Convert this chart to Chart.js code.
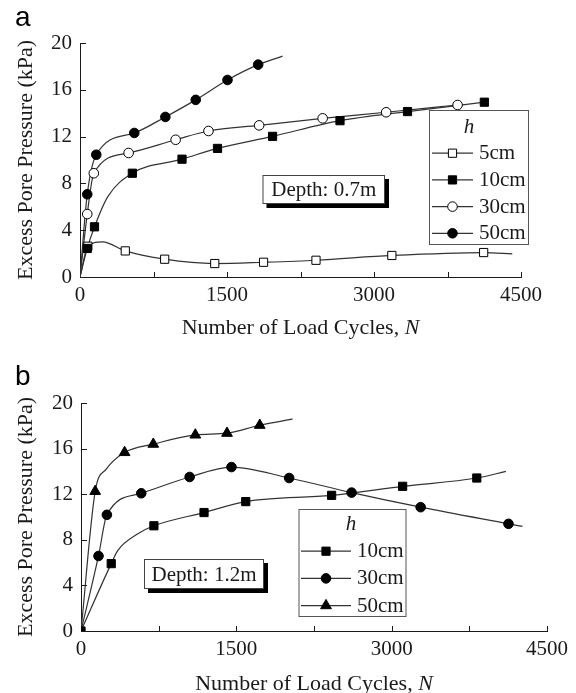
<!DOCTYPE html>
<html>
<head>
<meta charset="utf-8">
<script src="https://cdn.jsdelivr.net/npm/chart.js@4.4.1/dist/chart.umd.min.js"></script>
<style>
  html, body { margin: 0; padding: 0; background: #fff; }
  #wrap { position: relative; width: 576px; height: 693px; overflow: hidden; }
  canvas { position: absolute; left: 0; }
  #chart-a { top: 0; }
  #chart-b { top: 346px; }
</style>
</head>
<body>
<div id="wrap">
  <canvas id="chart-a" width="576" height="346"></canvas>
  <canvas id="chart-b" width="576" height="347"></canvas>
</div>
<script>
// ── Data: number of load cycles (N) vs excess pore pressure (kPa) ──────────
// "N/P" = readings with a marker, "CurveN/CurveP" = extra points on the line.

// Panel a, depth 0.7 m
var a5N  = [80, 462, 864, 1375, 1873, 2408, 3182, 4119];
var a5P  = [2.63, 2.23, 1.52, 1.15, 1.26, 1.43, 1.84, 2.09];
var a5CurveN = [0, 230, 4411];
var a5CurveP = [0, 3.0, 1.97];

var a10N = [74, 148, 534, 1041, 1403, 1965, 2653, 3342, 4126];
var a10P = [2.44, 4.29, 8.87, 10.07, 10.99, 12.02, 13.36, 14.14, 14.94];
var a10CurveN = [0, 284];
var a10CurveP = [0, 6.87];

var a30N = [74, 141, 496, 976, 1311, 1828, 2476, 3124, 3853];
var a30P = [5.38, 8.87, 10.6, 11.73, 12.48, 12.96, 13.56, 14.08, 14.7];
var a30CurveN = [0];
var a30CurveP = [0];

var a50N = [74, 166, 554, 871, 1181, 1505, 1818];
var a50P = [7.07, 10.45, 12.31, 13.68, 15.14, 16.84, 18.15];
var a50CurveN = [0, 2067];
var a50CurveP = [0, 18.88];

// Panel b, depth 1.2 m
var b10N = [0, 292, 704, 1188, 1591, 2420, 3106, 3822];
var b10P = [0, 5.91, 9.23, 10.39, 11.35, 11.9, 12.69, 13.42];
var b10CurveN = [356, 549, 4103];
var b10CurveP = [7.07, 8.53, 14.0];

var b30N = [169, 250, 582, 1049, 1453, 2010, 2613, 3280, 4128];
var b30P = [6.58, 10.19, 12.08, 13.51, 14.38, 13.42, 12.14, 10.86, 9.4];
var b30CurveN = [0, 4263];
var b30CurveP = [0, 9.17];

var b50N = [137, 421, 698, 1104, 1410, 1726];
var b50P = [12.25, 15.66, 16.39, 17.2, 17.35, 18.05];
var b50CurveN = [0, 244, 2043];
var b50CurveP = [0, 14.2, 18.58];

// Axis ticks
var xTicks = [0, 1500, 3000, 4500];
var xMinorTicks = [750, 2250, 3750];
var yTicks = [0, 4, 8, 12, 16, 20];

var SERIF = "'Liberation Serif', 'Times New Roman', serif";
var INK = '#1a1a1a';

function toPoints(ns, ps) {
    return ns.map(function(n, i) { return {x: n, y: ps[i]}; });
}

function curve(mN, mP, cN, cP) {
    return toPoints(mN, mP).concat(toPoints(cN, cP)).sort(function(p, q) { return p.x - q.x; });
}

// One series = a smooth line plus its markers.
function series(label, style, filled, mN, mP, cN, cP) {
    var radius = style === 'rect' ? 5.8 : (style === 'triangle' ? 6.2 : 4.8);
    return [{
        label: label,
        data: toPoints(mN, mP),
        showLine: false,
        pointStyle: style,
        pointRadius: radius,
        pointHoverRadius: radius,
        pointBackgroundColor: filled ? '#000' : '#fff',
        pointBorderColor: '#000',
        pointBorderWidth: 1,
        order: filled ? 1 : 2
    }, {
        label: label + ' line',
        data: curve(mN, mP, cN, cP),
        showLine: true,
        borderColor: '#333',
        borderWidth: 1.2,
        pointRadius: 0,
        cubicInterpolationMode: 'monotone',
        fill: false,
        order: 5
    }];
}

// ── Extra drawing: inward ticks, x title, legend box, depth box, panel letter ──
var decor = {
    id: 'decor',
    afterDraw: function(chart, args, o) {
        var ctx = chart.ctx, xs = chart.scales.x, ys = chart.scales.y, area = chart.chartArea;
        ctx.save();

        // inward tick marks
        ctx.strokeStyle = INK;
        ctx.lineWidth = 1;
        ctx.beginPath();
        xTicks.concat(xMinorTicks).forEach(function(v) {
            if (v === 0) { return; }
            var px = Math.round(xs.getPixelForValue(v)) + 0.5;
            ctx.moveTo(px, area.bottom);
            ctx.lineTo(px, area.bottom - 5);
        });
        yTicks.forEach(function(v) {
            if (v === 0) { return; }
            var py = Math.round(ys.getPixelForValue(v)) + 0.5;
            ctx.moveTo(area.left, py);
            ctx.lineTo(area.left + 6, py);
        });
        ctx.stroke();

        // x title with italic N
        ctx.fillStyle = INK;
        ctx.textBaseline = 'alphabetic';
        ctx.textAlign = 'left';
        var main = 'Number of Load Cycles, ';
        ctx.font = '22px ' + SERIF;
        var w1 = ctx.measureText(main).width;
        ctx.font = 'italic 22px ' + SERIF;
        var w2 = ctx.measureText('N').width;
        var x0 = (area.left + area.right) / 2 - (w1 + w2) / 2;
        ctx.font = '22px ' + SERIF;
        ctx.fillText(main, x0, o.titleY);
        ctx.font = 'italic 22px ' + SERIF;
        ctx.fillText('N', x0 + w1, o.titleY);

        // depth box with drop shadow
        var d = o.depth;
        ctx.fillStyle = '#000';
        ctx.fillRect(d.x + 4, d.y + 4, d.w, d.h);
        ctx.fillStyle = '#fff';
        ctx.fillRect(d.x, d.y, d.w, d.h);
        ctx.strokeStyle = '#444';
        ctx.strokeRect(d.x + 0.5, d.y + 0.5, d.w - 1, d.h - 1);
        ctx.fillStyle = INK;
        ctx.font = '21px ' + SERIF;
        ctx.textAlign = 'center';
        ctx.textBaseline = 'middle';
        ctx.fillText(d.text, d.x + d.w / 2, d.y + d.h / 2 + 1);

        // legend
        var L = o.legend;
        ctx.fillStyle = '#fff';
        ctx.fillRect(L.x, L.y, L.w, L.h);
        ctx.strokeStyle = '#555';
        ctx.strokeRect(L.x + 0.5, L.y + 0.5, L.w - 1, L.h - 1);
        ctx.fillStyle = INK;
        ctx.font = 'italic 21px ' + SERIF;
        ctx.fillText('h', L.hX, L.hY);
        var marks = chart.data.datasets.filter(function(ds) { return !ds.showLine; });
        marks.forEach(function(ds, i) {
            var y = L.row0 + i * L.rowGap;
            ctx.strokeStyle = '#333';
            ctx.lineWidth = 1.2;
            ctx.beginPath();
            ctx.moveTo(L.lineX0, y + 0.5);
            ctx.lineTo(L.lineX1, y + 0.5);
            ctx.stroke();
            ctx.fillStyle = ds.pointBackgroundColor;
            ctx.strokeStyle = '#000';
            ctx.lineWidth = 1;
            Chart.helpers.drawPoint(ctx, {
                pointStyle: ds.pointStyle, radius: ds.pointRadius, rotation: 0, borderWidth: 1
            }, (L.lineX0 + L.lineX1) / 2, y + 0.5);
            ctx.fillStyle = INK;
            ctx.font = '21px ' + SERIF;
            ctx.textAlign = 'left';
            ctx.fillText(ds.label, L.textX, y + 1);
        });

        // panel letter
        ctx.font = "28px 'Liberation Sans', Arial, sans-serif";
        ctx.textAlign = 'left';
        ctx.textBaseline = 'alphabetic';
        ctx.fillStyle = '#000';
        ctx.fillText(o.letter, 15, o.letterY);

        ctx.restore();
    }
};

function scales(yWidth, xHeight) {
    var tickFont = {family: SERIF, size: 21};
    var plain = function(v) { return String(v); };
    return {
        x: {
            type: 'linear', min: 0, max: 4500,
            afterBuildTicks: function(s) { s.ticks = xTicks.map(function(v) { return {value: v}; }); },
            ticks: {font: tickFont, color: INK, padding: 6, maxRotation: 0, autoSkip: false, callback: plain},
            grid: {display: false, drawTicks: false},
            border: {display: true, color: INK, width: 1},
            afterFit: function(s) { s.height = xHeight; }
        },
        y: {
            type: 'linear', min: 0, max: 20,
            afterBuildTicks: function(s) { s.ticks = yTicks.map(function(v) { return {value: v}; }); },
            ticks: {font: tickFont, color: INK, padding: 8, callback: plain},
            grid: {display: false, drawTicks: false},
            border: {display: true, color: INK, width: 1},
            title: {display: true, text: 'Excess Pore Pressure (kPa)', font: {family: SERIF, size: 22},
                    color: INK, padding: {top: 13, bottom: 0}},
            afterFit: function(s) { s.width = yWidth; }
        }
    };
}

function makeChart(id, datasets, layoutPad, yWidth, xHeight, decorOpts) {
    return new Chart(document.getElementById(id), {
        type: 'scatter',
        data: {datasets: datasets},
        options: {
            responsive: false,
            animation: false,
            layout: {padding: layoutPad},
            plugins: {legend: {display: false}, tooltip: {enabled: false}, decor: decorOpts},
            scales: scales(yWidth, xHeight)
        },
        plugins: [decor]
    });
}

makeChart('chart-a',
    [].concat(
        series('5cm', 'rect', false, a5N, a5P, a5CurveN, a5CurveP),
        series('10cm', 'rect', true, a10N, a10P, a10CurveN, a10CurveP),
        series('30cm', 'circle', false, a30N, a30P, a30CurveN, a30CurveP),
        series('50cm', 'circle', true, a50N, a50P, a50CurveN, a50CurveP)
    ),
    {left: 0, top: 43, right: 55, bottom: 0}, 80, 69,
    {
        titleY: 334, letter: 'a', letterY: 26,
        depth: {x: 262.5, y: 175, w: 122.5, h: 29, text: 'Depth: 0.7m'},
        legend: {x: 429, y: 110, w: 100, h: 135, hX: 469, hY: 127,
                 row0: 152.7, rowGap: 26.7, lineX0: 432, lineX1: 473, textX: 479}
    });

makeChart('chart-b',
    [].concat(
        series('10cm', 'rect', true, b10N, b10P, b10CurveN, b10CurveP),
        series('30cm', 'circle', true, b30N, b30P, b30CurveN, b30CurveP),
        series('50cm', 'triangle', true, b50N, b50P, b50CurveN, b50CurveP)
    ),
    {left: 0, top: 57, right: 29, bottom: 0}, 81, 62,
    {
        titleY: 344, letter: 'b', letterY: 39,
        depth: {x: 144, y: 213, w: 120, h: 30, text: 'Depth: 1.2m'},
        legend: {x: 298.5, y: 163, w: 108, h: 108, hX: 351, hY: 178.5,
                 row0: 204.7, rowGap: 27.2, lineX0: 301, lineX1: 351, textX: 357}
    });
</script>
</body>
</html>
